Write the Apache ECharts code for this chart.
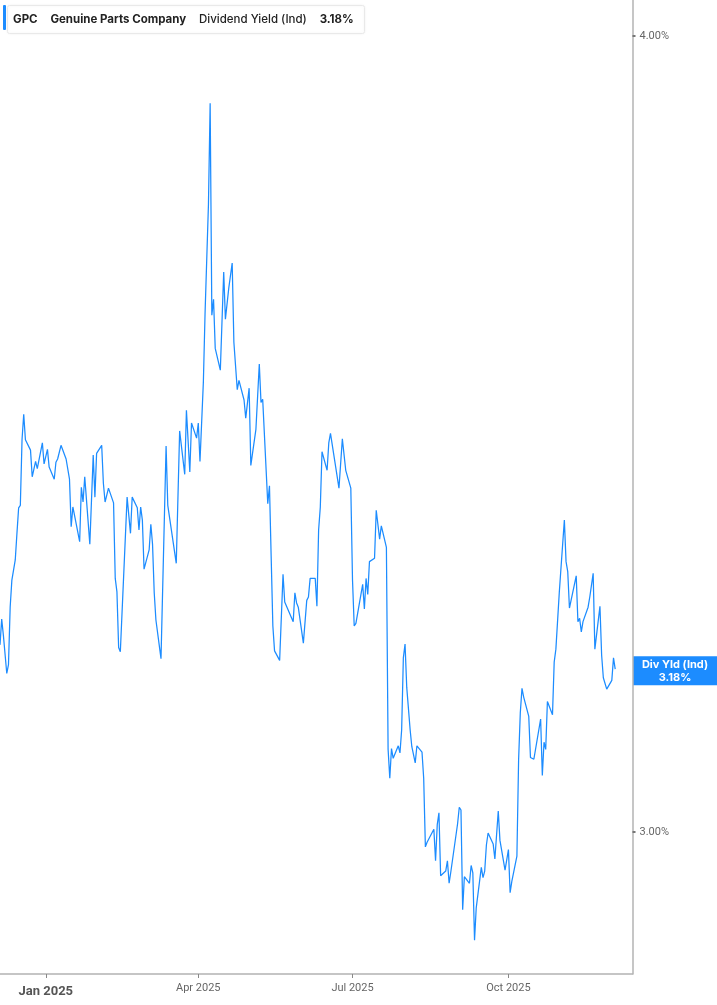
<!DOCTYPE html>
<html lang="en">
<head>
    <meta charset="UTF-8">
    <title>GPC Dividend Yield</title>
    <script src="https://cdn.jsdelivr.net/npm/echarts@6.0.0/dist/echarts.min.js"></script>
    <style>
        html, body { margin: 0; padding: 0; background: #fff; }
        #main { width: 717px; height: 1005px; }
    </style>
</head>
<body>
<div id="main"></div>
<script>
    // trading dates (turning points)
    var dates = [
        '2024-12-05','2024-12-06','2024-12-07','2024-12-09','2024-12-10','2024-12-11','2024-12-12','2024-12-14',
        '2024-12-15','2024-12-16','2024-12-17','2024-12-18','2024-12-19','2024-12-20','2024-12-23','2024-12-24',
        '2024-12-26','2024-12-27','2024-12-30','2024-12-31','2025-01-02','2025-01-03','2025-01-06','2025-01-07',
        '2025-01-08','2025-01-10','2025-01-13','2025-01-15','2025-01-16','2025-01-17','2025-01-21','2025-01-22',
        '2025-01-23','2025-01-24','2025-01-27','2025-01-29','2025-01-30','2025-01-31','2025-02-03','2025-02-04',
        '2025-02-05','2025-02-07','2025-02-10','2025-02-11','2025-02-12','2025-02-13','2025-02-14','2025-02-18',
        '2025-02-20','2025-02-21','2025-02-24','2025-02-25','2025-02-26','2025-02-27','2025-02-28','2025-03-03',
        '2025-03-04','2025-03-05','2025-03-06','2025-03-07','2025-03-10','2025-03-13','2025-03-14','2025-03-19',
        '2025-03-21','2025-03-24','2025-03-25','2025-03-27','2025-03-28','2025-03-31','2025-04-01','2025-04-02',
        '2025-04-04','2025-04-05','2025-04-07','2025-04-08','2025-04-09','2025-04-10','2025-04-11','2025-04-14',
        '2025-04-16','2025-04-17','2025-04-19','2025-04-21','2025-04-22','2025-04-24','2025-04-25','2025-04-28',
        '2025-04-29','2025-05-01','2025-05-02','2025-05-05','2025-05-07','2025-05-08','2025-05-09','2025-05-12',
        '2025-05-13','2025-05-14','2025-05-15','2025-05-16','2025-05-19','2025-05-21','2025-05-22','2025-05-23',
        '2025-05-27','2025-05-28','2025-05-29','2025-05-30','2025-06-02','2025-06-04','2025-06-05','2025-06-06',
        '2025-06-09','2025-06-10','2025-06-11','2025-06-12','2025-06-13','2025-06-16','2025-06-17','2025-06-18',
        '2025-06-23','2025-06-24','2025-06-25','2025-06-26','2025-06-27','2025-06-30','2025-07-01','2025-07-02',
        '2025-07-03','2025-07-07','2025-07-08','2025-07-09','2025-07-10','2025-07-11','2025-07-14','2025-07-15',
        '2025-07-17','2025-07-18','2025-07-21','2025-07-22','2025-07-23','2025-07-24','2025-07-25','2025-07-28',
        '2025-07-29','2025-07-30','2025-07-31','2025-08-01','2025-08-02','2025-08-04','2025-08-05','2025-08-07',
        '2025-08-08','2025-08-11','2025-08-12','2025-08-13','2025-08-14','2025-08-15','2025-08-18','2025-08-19',
        '2025-08-20','2025-08-21','2025-08-22','2025-08-25','2025-08-26','2025-08-27','2025-08-28','2025-08-29',
        '2025-09-01','2025-09-02','2025-09-03','2025-09-04','2025-09-05','2025-09-08','2025-09-09','2025-09-10',
        '2025-09-11','2025-09-12','2025-09-15','2025-09-16','2025-09-17','2025-09-18','2025-09-19','2025-09-22',
        '2025-09-23','2025-09-24','2025-09-25','2025-09-26','2025-09-29','2025-10-01','2025-10-02','2025-10-03',
        '2025-10-06','2025-10-07','2025-10-08','2025-10-09','2025-10-10','2025-10-13','2025-10-14','2025-10-15',
        '2025-10-16','2025-10-20','2025-10-21','2025-10-22','2025-10-23','2025-10-24','2025-10-27','2025-10-28',
        '2025-10-29','2025-10-31','2025-11-01','2025-11-03','2025-11-04','2025-11-05','2025-11-06','2025-11-10',
        '2025-11-11','2025-11-12','2025-11-13','2025-11-14','2025-11-17','2025-11-18','2025-11-20','2025-11-21',
        '2025-11-24','2025-11-25','2025-11-26','2025-11-28','2025-12-01','2025-12-02','2025-12-03'
    ];
    // dividend yield (Ind), %
    var yields = [
        3.210, 3.240, 3.221, 3.177, 3.187, 3.254, 3.286, 3.310,
        3.342, 3.373, 3.376, 3.457, 3.489, 3.457, 3.444, 3.411,
        3.430, 3.421, 3.453, 3.427, 3.445, 3.423, 3.408, 3.429,
        3.433, 3.450, 3.433, 3.408, 3.350, 3.374, 3.332, 3.398,
        3.380, 3.411, 3.329, 3.438, 3.386, 3.440, 3.450, 3.403,
        3.380, 3.397, 3.379, 3.288, 3.272, 3.207, 3.202, 3.386,
        3.342, 3.386, 3.373, 3.346, 3.374, 3.358, 3.299, 3.322,
        3.353, 3.329, 3.271, 3.239, 3.194, 3.449, 3.376, 3.306,
        3.468, 3.414, 3.494, 3.417, 3.478, 3.459, 3.478, 3.430,
        3.530, 3.619, 3.764, 3.904, 3.616, 3.637, 3.573, 3.545,
        3.673, 3.611, 3.652, 3.685, 3.581, 3.520, 3.532, 3.507,
        3.484, 3.522, 3.425, 3.470, 3.553, 3.504, 3.508, 3.378,
        3.400, 3.314, 3.232, 3.203, 3.192, 3.293, 3.260, 3.262,
        3.237, 3.271, 3.259, 3.254, 3.212, 3.262, 3.266, 3.288,
        3.288, 3.255, 3.346, 3.374, 3.442, 3.419, 3.453, 3.465,
        3.397, 3.398, 3.458, 3.460, 3.419, 3.397, 3.286, 3.232,
        3.235, 3.281, 3.252, 3.288, 3.269, 3.308, 3.312, 3.370,
        3.335, 3.351, 3.325, 3.091, 3.059, 3.092, 3.081, 3.095,
        3.087, 3.113, 3.195, 3.211, 3.161, 3.113, 3.094, 3.076,
        3.095, 3.088, 3.059, 2.984, 2.989, 2.989, 3.003, 2.969,
        3.008, 3.021, 2.953, 2.958, 2.969, 2.945, 2.957, 2.957,
        3.009, 3.027, 3.024, 2.917, 2.952, 2.945, 2.964, 2.956,
        2.885, 2.919, 2.962, 2.951, 2.958, 2.986, 2.999, 2.987,
        2.971, 2.972, 3.023, 2.991, 2.959, 2.981, 2.935, 2.947,
        2.974, 3.079, 3.132, 3.160, 3.150, 3.128, 3.082, 3.084,
        3.080, 3.125, 3.062, 3.099, 3.091, 3.145, 3.130, 3.190,
        3.205, 3.271, 3.300, 3.358, 3.308, 3.296, 3.253, 3.291,
        3.237, 3.241, 3.225, 3.237, 3.254, 3.266, 3.294, 3.205,
        3.255, 3.198, 3.172, 3.159, 3.169, 3.195, 3.182
    ];
    var yTicks = [3, 4];
    var xTicks = ['2025-01-01', '2025-04-01', '2025-07-01', '2025-10-01'];
    var xMin = '2024-12-05';
    var xMax = '2025-12-13';
    var lastYield = 3.18;
    var monthNames = ['Jan','Feb','Mar','Apr','May','Jun','Jul','Aug','Sep','Oct','Nov','Dec'];
    var lineColor = '#1c8cff';

    // dates -> timestamps (UTC midnight) so the x axis can be a plain value axis
    function ts(s) {
        var p = s.split('-');
        return Date.UTC(+p[0], +p[1] - 1, +p[2]);
    }

    var seriesData = dates.map(function (d, i) {
        return [ts(d), yields[i]];
    });

    var chart = echarts.init(document.getElementById('main'));
    var option = {
        animation: false,
        textStyle: { fontFamily: 'Inter, Roboto, sans-serif' },
        grid: { left: 0, right: 84.5, top: 0, bottom: 31, containLabel: false },
        title: {
            left: 7,
            top: 5,
            text: '{b|GPC}   {b|Genuine Parts Company}   {n|Dividend Yield (Ind)}   {b|3.18%}',
            backgroundColor: '#fff',
            borderColor: '#e9e9e9',
            borderWidth: 1,
            borderRadius: 2,
            shadowColor: 'rgba(0,0,0,0.06)',
            shadowBlur: 3,
            padding: [6, 11, 5, 6],
            textStyle: {
                rich: {
                    b: { fontFamily: 'Inter', fontSize: 11.5, fontWeight: 'bold', color: '#222' },
                    n: { fontFamily: 'Inter', fontSize: 11.5, fontWeight: 500, color: '#222' }
                }
            }
        },
        graphic: [{
            type: 'rect',
            left: 3,
            top: 5,
            shape: { width: 3, height: 25, r: 1 },
            style: { fill: lineColor },
            z: 100
        }],
        xAxis: {
            type: 'value',
            min: ts(xMin),
            max: ts(xMax) + 5 * 3600 * 1000,
            splitLine: { show: false },
            axisLine: { show: true, onZero: false, lineStyle: { color: '#b3b3b3', width: 1.5 } },
            axisTick: { show: true, customValues: xTicks.map(ts), length: 4, lineStyle: { color: '#888' } },
            axisLabel: {
                customValues: xTicks.map(ts),
                margin: 8,
                formatter: function (val) {
                    var d = new Date(val);
                    var s = monthNames[d.getUTCMonth()] + ' ' + d.getUTCFullYear();
                    return d.getUTCMonth() === 0 ? '{y|' + s + '}' : '{m|' + s + '}';
                },
                rich: {
                    y: { fontFamily: 'Roboto', fontSize: 13, fontWeight: 'bold', color: '#555', padding: [3, 0, 0, 0] },
                    m: { fontFamily: 'Roboto', fontSize: 11, color: '#666', padding: [1, 0, 0, 0] }
                }
            }
        },
        yAxis: {
            type: 'log',
            logBase: 10,
            position: 'right',
            min: 2.850,
            max: 4.0524,
            splitLine: { show: false },
            axisLine: { show: true, lineStyle: { color: '#b3b3b3', width: 1.5 } },
            axisTick: { show: true, customValues: yTicks, length: 3, lineStyle: { color: '#777', width: 2 } },
            axisLabel: {
                customValues: yTicks,
                margin: 7,
                fontFamily: 'Roboto',
                fontSize: 11,
                color: '#666',
                formatter: function (v) { return (+v).toFixed(2) + '%'; }
            }
        },
        series: [{
            type: 'line',
            data: seriesData,
            showSymbol: false,
            symbol: 'none',
            lineStyle: { color: lineColor, width: 1.25 },
            clip: true
        }]
    };
    chart.setOption(option);

    // last-value tag on the right axis, placed through the y scale
    var tagY = chart.convertToPixel({ yAxisIndex: 0 }, lastYield);
    var gridRight = chart.getWidth() - 84;
    chart.setOption({
        graphic: [option.graphic[0], {
            type: 'group',
            x: gridRight,
            y: tagY,
            children: [{
                type: 'rect',
                shape: { x: 0, y: -14.5, width: chart.getWidth() - gridRight, height: 29 },
                style: { fill: lineColor }
            }, {
                type: 'text',
                x: (chart.getWidth() - gridRight) / 2,
                y: 0,
                style: {
                    text: 'Div Yld (Ind)\n' + lastYield.toFixed(2) + '%',
                    fill: '#fff',
                    font: 'bold 11px Inter, sans-serif',
                    lineHeight: 13,
                    align: 'center',
                    verticalAlign: 'middle'
                }
            }]
        }]
    });
</script>
</body>
</html>
